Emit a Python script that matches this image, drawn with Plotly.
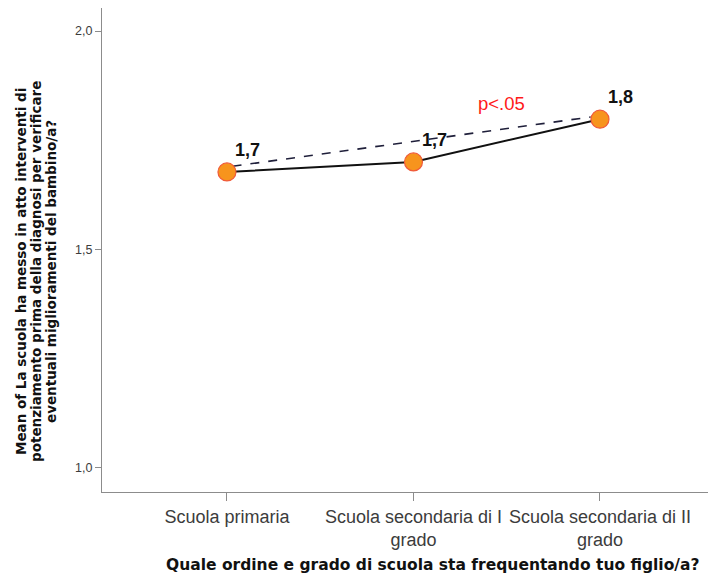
import plotly.graph_objects as go

categories = ["Scuola primaria", "Scuola secondaria di I<br>grado", "Scuola secondaria di II<br>grado"]
means = [1.677, 1.700, 1.798]
mean_labels = ["1,7", "1,7", "1,8"]

# dashed comparison line (primaria vs secondaria II), drawn a bit above the means
cmp_x = [0.03, 1.95]
cmp_y = [1.690, 1.803]
p_label = "p<.05"
p_pos = (1.47, 1.833)

y_ticks = [1.0, 1.5, 2.0]
y_title_lines = [
    "Mean of La scuola ha messo in atto interventi di",
    "potenziamento prima della diagnosi per verificare",
    "eventuali miglioramenti del bambino/a?",
]
x_title = "Quale ordine e grado di scuola sta frequentando tuo figlio/a?"

_AXIS = "#8c8c8c"
_TEXT = "#3c3c3c"
_FONT = "Liberation Sans, Arial, sans-serif"
_BOLD = "DejaVu Sans, sans-serif"

# the page body has an 8px default margin, so the figure is sized to fit the window
W, H = 708, 573
L, T, PW, PH = 94, 0, 611, 484

x_idx = list(range(len(categories)))

fig = go.Figure()
fig.add_trace(go.Scatter(
    x=cmp_x, y=cmp_y, mode="lines",
    line={"color": "#1f1f3a", "width": 1.6, "dash": "dash"},
    hoverinfo="skip",
))
fig.add_trace(go.Scatter(
    x=x_idx, y=means, mode="lines+markers",
    line={"color": "#111111", "width": 2},
    marker={"size": 18, "color": "#f7941d", "line": {"color": "#f05a3a", "width": 1.2}},
))

for xi, yv, lab in zip(x_idx, means, mean_labels):
    fig.add_annotation(x=xi, y=yv, text=f"<b>{lab}</b>", showarrow=False,
                       xshift=21, yshift=22, font={"size": 18, "color": "#111111"})

fig.add_annotation(x=p_pos[0], y=p_pos[1], text=p_label, showarrow=False,
                   font={"size": 18.5, "color": "#ff1a1a"})

# y title as three separate rotated lines (tighter spacing than plotly's <br>)
for i, line in enumerate(y_title_lines):
    fig.add_annotation(
        xref="paper", yref="paper", x=(13 + 15 * i - L) / PW, y=(PH - 264) / PH,
        xanchor="center", yanchor="middle", textangle=-90, showarrow=False,
        text=f"<b>{line}</b>",
        font={"size": 13.5, "color": "#111111", "family": _BOLD},
    )

fig.add_annotation(
    xref="paper", yref="paper", x=(424 - L) / PW, y=(PH - 557) / PH,
    xanchor="center", yanchor="middle", showarrow=False,
    text=f"<b>{x_title}</b>",
    font={"size": 15.5, "color": "#111111", "family": _BOLD},
)

fig.update_layout(
    width=W, height=H,
    showlegend=False,
    separators=",.",
    margin={"l": L, "r": W - L - PW, "t": T, "b": H - T - PH},
    font={"family": _FONT, "size": 12, "color": _TEXT},
    plot_bgcolor="white",
    paper_bgcolor="white",
)
fig.update_xaxes(
    range=[-0.67, 2.606], tickvals=x_idx, ticktext=categories, automargin=False,
    showgrid=False, zeroline=False, showline=True, linecolor=_AXIS, linewidth=1,
    ticks="outside", ticklen=8, tickcolor=_AXIS, tickfont={"size": 18, "color": _TEXT},
)
fig.update_yaxes(
    range=[0.943, 2.053], tickvals=y_ticks, tickformat=".1f", automargin=False,
    showgrid=False, zeroline=False, showline=True, linecolor=_AXIS, linewidth=1,
    ticks="outside", ticklen=6, tickcolor=_AXIS, tickfont={"size": 12.5, "color": _TEXT},
)

fig.write_html("out.html")
